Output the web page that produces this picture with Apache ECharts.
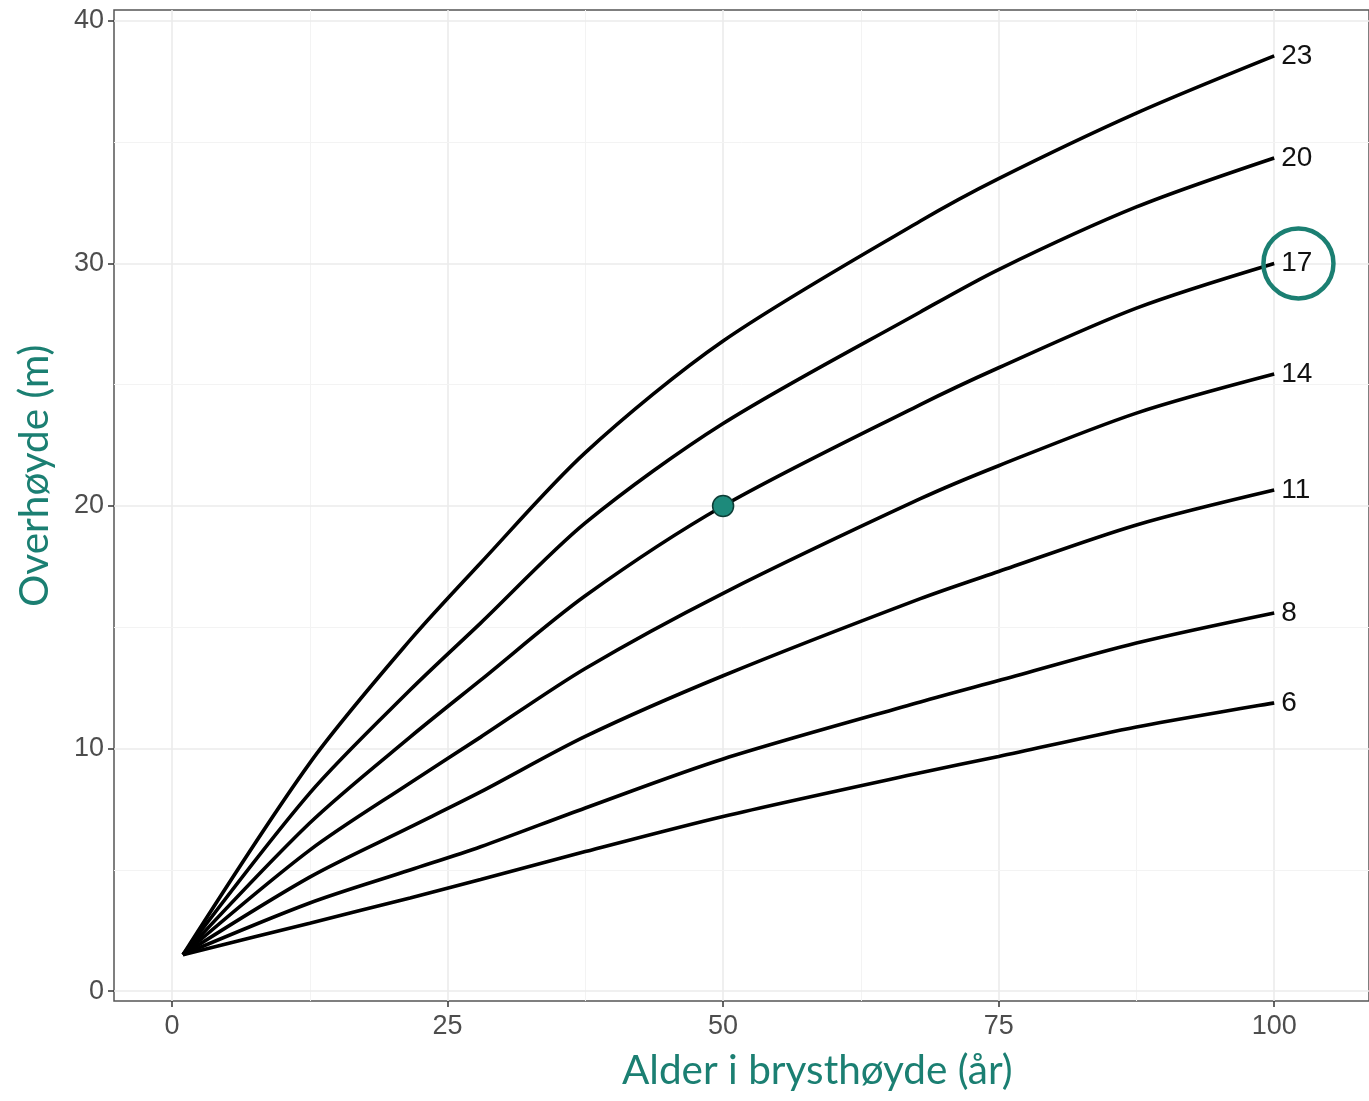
<!DOCTYPE html>
<html>
<head>
<meta charset="utf-8">
<script src="https://cdn.jsdelivr.net/npm/echarts@6/dist/echarts.min.js"></script>
<style>
  html, body { margin: 0; padding: 0; background: #fff; }
  #main { width: 1369px; height: 1101px; }
</style>
</head>
<body>
<div id="main"></div>
<script>
// age (years at breast height) where curves were read
const ages = [1, 12.5, 21.6, 28, 37.5, 50, 67.9, 75, 87.5, 100];

// dominant height (m) per site index curve
const h23 = [1.5, 9.4, 14.47, 17.65, 22.2, 26.8, 31.75, 33.5, 36.2, 38.56];
const h20 = [1.5, 8.16, 12.41, 15.17, 19.3, 23.4, 28.0, 29.75, 32.33, 34.35];
const h17 = [1.5, 6.93, 10.47, 12.82, 16.3, 20.0, 24.18, 25.7, 28.16, 30.0];
const h14 = [1.5, 5.81, 8.58, 10.47, 13.3, 16.4, 20.3, 21.66, 23.83, 25.44];
const h11 = [1.5, 4.7, 6.76, 8.21, 10.5, 13.0, 16.18, 17.3, 19.22, 20.66];
const h8 = [1.5, 3.63, 4.99, 5.95, 7.55, 9.57, 11.92, 12.8, 14.35, 15.59];
const h6 = [1.5, 2.8, 3.84, 4.6, 5.75, 7.2, 9.0, 9.67, 10.89, 11.88];

const curveNames = ['23', '20', '17', '14', '11', '8', '6'];
const curveValues = [h23, h20, h17, h14, h11, h8, h6];

const markedPoint = [[50, 20]];
const circledLabel = [[102.2, 30]];

const xTicks = [0, 25, 50, 75, 100];
const xMinor = [12.5, 37.5, 62.5, 87.5];
const yTicks = [0, 10, 20, 30, 40];
const yMinor = [5, 15, 25, 35];

const teal = '#1b7f72';

let chart = echarts.init(document.getElementById('main'));

let curveSeries = curveNames.map(function (name, i) {
    return {
        name: name,
        type: 'line',
        z: 3,
        data: ages.map(function (a, j) { return [a, curveValues[i][j]]; }),
        smooth: 0.3,
        symbol: 'none',
        lineStyle: { color: '#000', width: 3.6 },
        endLabel: {
            show: true,
            formatter: '{a}',
            distance: 7,
            fontFamily: 'Liberation Sans',
            fontSize: 28,
            color: '#111'
        }
    };
});

let gridLines = [];
xTicks.forEach(function (v) { gridLines.push({ xAxis: v, lineStyle: { color: '#ebebeb', width: 1.6 } }); });
xMinor.forEach(function (v) { gridLines.push({ xAxis: v, lineStyle: { color: '#f3f3f3', width: 1 } }); });
yTicks.forEach(function (v) { gridLines.push({ yAxis: v, lineStyle: { color: '#ebebeb', width: 1.6 } }); });
yMinor.forEach(function (v) { gridLines.push({ yAxis: v, lineStyle: { color: '#f3f3f3', width: 1 } }); });

let option = {
    animation: false,
    backgroundColor: '#fff',
    grid: {
        left: 114, right: 0, top: 10, bottom: 100,
        show: true, borderColor: '#555', borderWidth: 1.5
    },
    xAxis: {
        type: 'value',
        min: -5.26,
        max: 108.6,
        axisLine: { show: false, onZero: false },
        splitLine: { show: false },
        axisTick: { show: true, customValues: xTicks, length: 6, lineStyle: { color: '#333', width: 1.5 } },
        axisLabel: {
            customValues: xTicks, margin: 12,
            fontFamily: 'Liberation Sans', fontSize: 27, color: '#4d4d4d'
        }
    },
    yAxis: {
        type: 'value',
        min: -0.41,
        max: 40.45,
        axisLine: { show: false, onZero: false },
        splitLine: { show: false },
        axisTick: { show: true, customValues: yTicks, length: 6, lineStyle: { color: '#333', width: 1.5 } },
        axisLabel: {
            customValues: yTicks, margin: 10,
            fontFamily: 'Liberation Sans', fontSize: 27, color: '#4d4d4d'
        }
    },
    graphic: [
        {
            type: 'text',
            left: 622,
            top: 1050,
            style: { text: 'Alder i brysthøyde (år)', fill: teal, fontFamily: 'Lato', fontSize: 40.5 }
        },
        {
            type: 'text',
            x: 14,
            y: 607,
            rotation: Math.PI / 2,
            style: { text: 'Overhøyde (m)', fill: teal, fontFamily: 'Lato', fontSize: 40.5 }
        }
    ],
    series: [
        {
            name: 'grid',
            type: 'line',
            data: [],
            silent: true,
            markLine: {
                z: 1,
                silent: true,
                symbol: ['none', 'none'],
                label: { show: false },
                lineStyle: { type: 'solid' },
                data: gridLines
            }
        }
    ].concat(curveSeries).concat([
        {
            name: 'point',
            type: 'scatter',
            z: 4,
            data: markedPoint,
            symbolSize: 21,
            itemStyle: { color: '#1d8a7b', borderColor: '#0d3d36', borderWidth: 1.5, opacity: 1 }
        },
        {
            name: 'circle',
            type: 'scatter',
            z: 4,
            clip: false,
            data: circledLabel,
            symbolSize: 70,
            itemStyle: { color: 'rgba(0,0,0,0)', borderColor: teal, borderWidth: 4.5, opacity: 1 }
        }
    ])
};

chart.setOption(option);
</script>
</body>
</html>
